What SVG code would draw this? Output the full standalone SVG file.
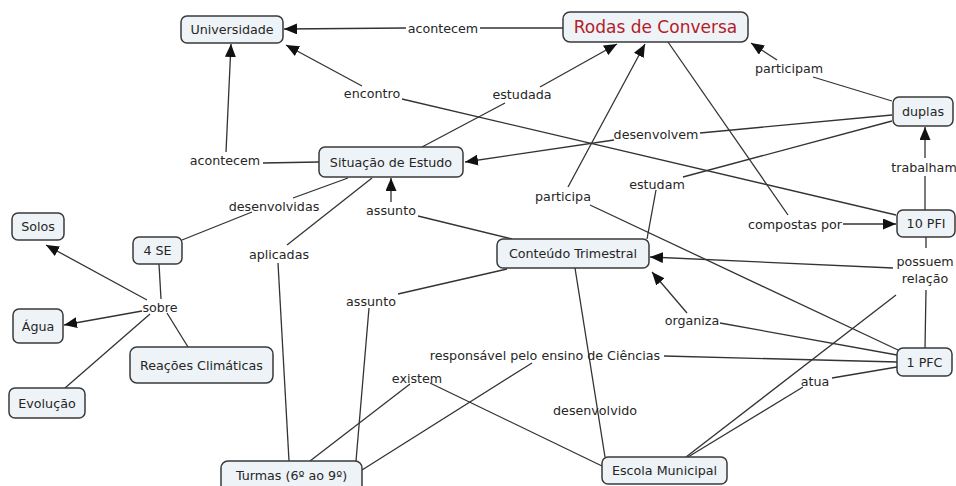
<svg xmlns="http://www.w3.org/2000/svg" width="956" height="486" viewBox="0 0 956 486">
<style>
.n rect{fill:#edf3f6;stroke:#3a3a3a;stroke-width:1.5}
.n text,.l{font-family:"DejaVu Sans",Verdana,sans-serif;font-size:12.7px;fill:#262626;text-anchor:middle}
.c line{stroke:#333;stroke-width:1.3;fill:none}
.c .a{marker-end:url(#ah)}
</style>
<defs>
<marker id="ah" markerUnits="userSpaceOnUse" markerWidth="13" markerHeight="11" refX="13" refY="5.5" orient="auto" viewBox="0 0 13 11">
<path d="M0,0 L13,5.5 L0,11 z" fill="#111"/>
</marker>
</defs>
<rect width="956" height="486" fill="#fff"/>
<g class="c" id="connectors">
<line x1="563" y1="28" x2="480" y2="28"/>
<line class="a" x1="406" y1="28" x2="284" y2="29"/>
<line x1="896" y1="215" x2="402" y2="99"/>
<line class="a" x1="362" y1="86" x2="286" y2="45"/>
<line x1="422" y1="147" x2="505" y2="103"/>
<line class="a" x1="540" y1="87" x2="617" y2="44"/>
<line x1="892" y1="101" x2="813" y2="77"/>
<line class="a" x1="777" y1="60" x2="751" y2="43"/>
<line x1="892" y1="115" x2="700" y2="133"/>
<line class="a" x1="614" y1="140" x2="465" y2="162"/>
<line x1="892" y1="121" x2="683" y2="177"/>
<line x1="656" y1="190" x2="647" y2="239"/>
<line x1="668" y1="42" x2="788" y2="215"/>
<line class="a" x1="843" y1="224" x2="896" y2="224"/>
<line x1="925" y1="210" x2="925" y2="176"/>
<line class="a" x1="925" y1="158" x2="925" y2="127"/>
<line x1="319" y1="162" x2="263" y2="163"/>
<line class="a" x1="226" y1="152" x2="231" y2="44"/>
<line x1="348" y1="178" x2="293" y2="198"/>
<line x1="252" y1="212" x2="182" y2="240"/>
<line x1="372" y1="178" x2="287" y2="245"/>
<line x1="278" y1="263" x2="289" y2="461"/>
<line x1="512" y1="239" x2="418" y2="216"/>
<line class="a" x1="391" y1="202" x2="391" y2="178"/>
<line x1="507" y1="269" x2="398" y2="294"/>
<line x1="369" y1="308" x2="356" y2="461"/>
<line x1="575" y1="268" x2="605" y2="457"/>
<line x1="897" y1="355" x2="720" y2="323"/>
<line class="a" x1="687" y1="313" x2="652" y2="272"/>
<line x1="926" y1="237" x2="926" y2="248"/>
<line class="a" x1="893" y1="268" x2="650" y2="257"/>
<line x1="926" y1="290" x2="925" y2="348"/>
<line x1="896" y1="295" x2="686" y2="457"/>
<line x1="898" y1="350" x2="590" y2="205"/>
<line class="a" x1="568" y1="187" x2="645" y2="44"/>
<line x1="897" y1="362" x2="664" y2="356"/>
<line x1="532" y1="363" x2="362" y2="470"/>
<line x1="897" y1="367" x2="832" y2="378"/>
<line x1="803" y1="387" x2="688" y2="457"/>
<line x1="602" y1="466" x2="430" y2="383"/>
<line x1="410" y1="384" x2="310" y2="461"/>
<line x1="159" y1="264" x2="161" y2="299"/>
<line class="a" x1="147" y1="300" x2="46" y2="245"/>
<line class="a" x1="142" y1="311" x2="64" y2="325"/>
<line x1="167" y1="313" x2="188" y2="347"/>
<line x1="150" y1="314" x2="65" y2="388"/>
</g>
<g id="labels">
<text class="l" x="443" y="32.5">acontecem</text>
<text class="l" x="372" y="97.5">encontro</text>
<text class="l" x="522" y="98.5">estudada</text>
<text class="l" x="789" y="72.5">participam</text>
<text class="l" x="656" y="138.5">desenvolvem</text>
<text class="l" x="924" y="171.5">trabalham</text>
<text class="l" x="225" y="164.5">acontecem</text>
<text class="l" x="274" y="210.5">desenvolvidas</text>
<text class="l" x="279" y="258.5">aplicadas</text>
<text class="l" x="391" y="214.5">assunto</text>
<text class="l" x="563" y="200.5">participa</text>
<text class="l" x="657" y="188.5">estudam</text>
<text class="l" x="795" y="228.5">compostas por</text>
<text class="l" x="925" y="265.5">possuem</text>
<text class="l" x="925" y="282.5">relação</text>
<text class="l" x="692" y="324.5">organiza</text>
<text class="l" x="371" y="305.5">assunto</text>
<text class="l" x="545" y="359.5">responsável pelo ensino de Ciências</text>
<text class="l" x="417" y="382.5">existem</text>
<text class="l" x="595" y="414.5">desenvolvido</text>
<text class="l" x="815" y="385.5">atua</text>
<text class="l" x="160" y="311.5">sobre</text>
</g>
<g class="n" id="universidade"><rect x="181" y="16" width="102" height="27" rx="6"/><text x="232" y="34">Universidade</text></g>
<g class="n" id="rodas"><rect x="563" y="12" width="185" height="30" rx="7"/><text x="655.5" y="33" style="font-size:17px;fill:#b3202a">Rodas de Conversa</text></g>
<g class="n" id="duplas"><rect x="893" y="97" width="60" height="29" rx="6"/><text x="923" y="116">duplas</text></g>
<g class="n" id="situacao"><rect x="319" y="147" width="144" height="30" rx="6"/><text x="391" y="166.5">Situação de Estudo</text></g>
<g class="n" id="se4"><rect x="133" y="237" width="49" height="27" rx="6"/><text x="157.5" y="255">4 SE</text></g>
<g class="n" id="solos"><rect x="12" y="213" width="52" height="27" rx="6"/><text x="38" y="231">Solos</text></g>
<g class="n" id="agua"><rect x="13" y="309" width="50" height="34" rx="6"/><text x="38" y="330.5">Água</text></g>
<g class="n" id="reacoes"><rect x="130" y="347" width="143" height="36" rx="7"/><text x="201.5" y="369.5">Reações Climáticas</text></g>
<g class="n" id="evolucao"><rect x="9" y="388" width="76" height="30" rx="6"/><text x="47" y="407.5">Evolução</text></g>
<g class="n" id="conteudo"><rect x="497" y="239" width="152" height="29" rx="6"/><text x="573" y="258">Conteúdo Trimestral</text></g>
<g class="n" id="pfi10"><rect x="897" y="210" width="58" height="27" rx="6"/><text x="926" y="228">10 PFI</text></g>
<g class="n" id="pfc1"><rect x="897" y="348" width="55" height="28" rx="6"/><text x="924.5" y="366.5">1 PFC</text></g>
<g class="n" id="turmas"><rect x="221" y="461" width="141" height="32" rx="7"/><text x="291.5" y="480">Turmas (6º ao 9º)</text></g>
<g class="n" id="escola"><rect x="602" y="457" width="125" height="27" rx="6"/><text x="664.5" y="475">Escola Municipal</text></g>
</svg>
